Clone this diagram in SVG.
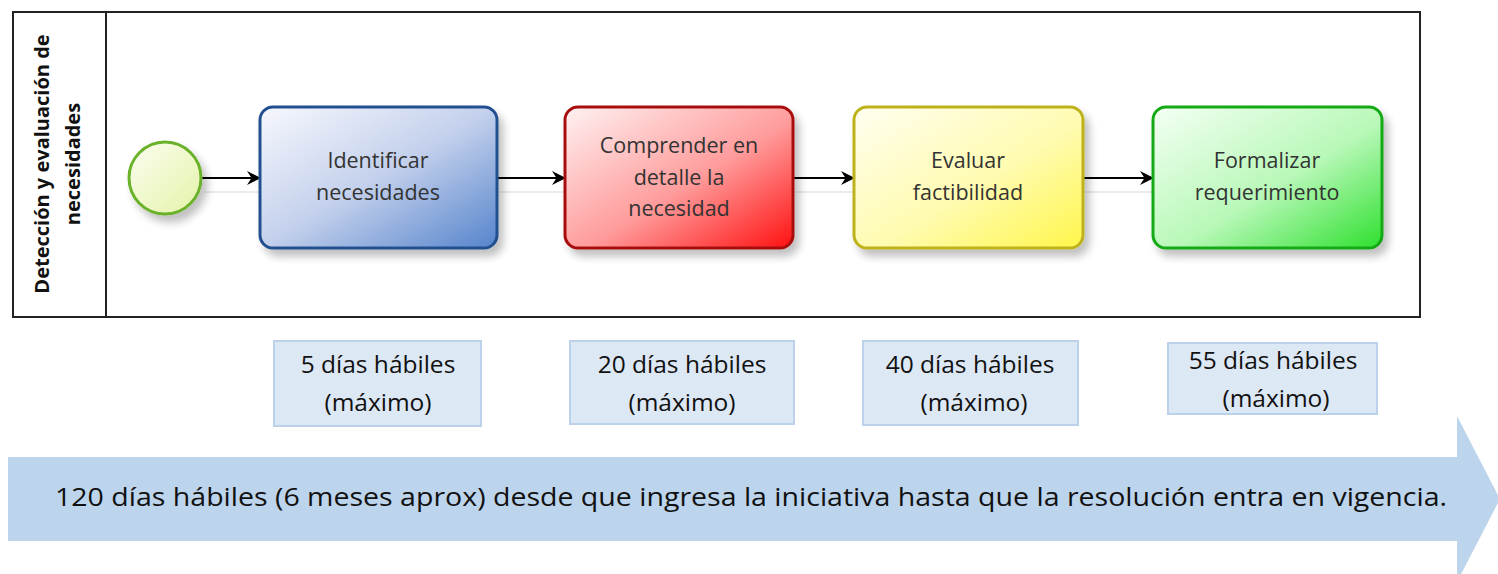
<svg xmlns="http://www.w3.org/2000/svg" width="1498" height="574" viewBox="0 0 1498 574">
<style>
.task{stroke-width:3}
.tt{font-family:"Open Sans","Noto Sans",sans-serif;font-size:21.5px;fill:#333;text-anchor:middle}
.dur{fill:#dde8f5;stroke:#bcd2ea;stroke-width:2}
.dt{font-family:"Open Sans","Noto Sans",sans-serif;font-size:24.5px;fill:#111;text-anchor:middle}
.conn{stroke:#000;stroke-width:2;fill:none;marker-end:url(#ah)}
.cshadow{stroke:#ececec;stroke-width:2;fill:none}
.lane{font-family:"Open Sans","Noto Sans",sans-serif;font-size:20px;font-weight:bold;fill:#111;text-anchor:middle}
</style>
<defs>
<marker id="ah" viewBox="0 0 14 14" refX="13" refY="7" markerWidth="14" markerHeight="14" markerUnits="userSpaceOnUse" orient="auto">
<path d="M0,0 L14,7 L0,14 L4.5,7 Z" fill="#000"/>
</marker>
<filter id="sh" x="-10%" y="-10%" width="130%" height="140%">
<feGaussianBlur in="SourceAlpha" stdDeviation="4"/>
<feOffset dx="5" dy="7"/>
<feComponentTransfer><feFuncA type="linear" slope="0.25"/></feComponentTransfer>
<feMerge><feMergeNode/><feMergeNode in="SourceGraphic"/></feMerge>
</filter>
<linearGradient id="gb" x1="0" y1="0" x2="1" y2="1"><stop offset="0" stop-color="#f7f8fd"/><stop offset="0.5" stop-color="#c3d0ec"/><stop offset="1" stop-color="#5584cc"/></linearGradient>
<linearGradient id="gr" x1="0" y1="0" x2="1" y2="1"><stop offset="0" stop-color="#fff2f2"/><stop offset="0.55" stop-color="#ff9a9a"/><stop offset="1" stop-color="#ff1010"/></linearGradient>
<linearGradient id="gy" x1="0" y1="0" x2="1" y2="1"><stop offset="0" stop-color="#fffef0"/><stop offset="0.55" stop-color="#fffbb0"/><stop offset="1" stop-color="#fff64a"/></linearGradient>
<linearGradient id="gg" x1="0" y1="0" x2="1" y2="1"><stop offset="0" stop-color="#f4fff4"/><stop offset="0.55" stop-color="#b8f8b8"/><stop offset="1" stop-color="#2ee02e"/></linearGradient>
<linearGradient id="gs" x1="0" y1="0" x2="1" y2="1"><stop offset="0" stop-color="#fbfdf0"/><stop offset="1" stop-color="#e4f3a8"/></linearGradient>
</defs>
<rect width="1498" height="574" fill="#fff"/>

<g id="pool">
<rect x="13" y="12" width="1407" height="305" fill="#fff" stroke="#222" stroke-width="2"/>
<line x1="106" y1="12" x2="106" y2="317" stroke="#222" stroke-width="2"/>
<text class="lane" transform="translate(49,164) rotate(-90)">Detección y evaluación de</text>
<text class="lane" transform="translate(80,164) rotate(-90)">necesidades</text>
</g>

<g id="connectors">
<line class="cshadow" x1="204" y1="192" x2="262" y2="192"/>
<line class="cshadow" x1="499" y1="192" x2="566" y2="192"/>
<line class="cshadow" x1="795" y1="192" x2="855" y2="192"/>
<line class="cshadow" x1="1085" y1="192" x2="1155" y2="192"/>
<line class="conn" x1="202" y1="178" x2="260" y2="178"/>
<line class="conn" x1="497" y1="178" x2="565" y2="178"/>
<line class="conn" x1="793" y1="178" x2="854" y2="178"/>
<line class="conn" x1="1083" y1="178" x2="1153" y2="178"/>
</g>

<g id="start">
<circle cx="165" cy="178" r="36" fill="url(#gs)" stroke="#6bb22c" stroke-width="3" filter="url(#sh)"/>
</g>

<g id="task1">
<rect class="task" x="260" y="107" width="237" height="141" rx="13" fill="url(#gb)" stroke="#22508f" filter="url(#sh)"/>
<text class="tt" x="378" y="168">Identificar</text>
<text class="tt" x="378" y="200">necesidades</text>
</g>
<g id="task2">
<rect class="task" x="565" y="107" width="228" height="141" rx="13" fill="url(#gr)" stroke="#a81010" filter="url(#sh)"/>
<text class="tt" x="679" y="153">Comprender en</text>
<text class="tt" x="679" y="185">detalle la</text>
<text class="tt" x="679" y="216">necesidad</text>
</g>
<g id="task3">
<rect class="task" x="854" y="107" width="229" height="141" rx="13" fill="url(#gy)" stroke="#bdb21a" filter="url(#sh)"/>
<text class="tt" x="968" y="168">Evaluar</text>
<text class="tt" x="968" y="200">factibilidad</text>
</g>
<g id="task4">
<rect class="task" x="1153" y="107" width="229" height="141" rx="13" fill="url(#gg)" stroke="#13a913" filter="url(#sh)"/>
<text class="tt" x="1267" y="168">Formalizar</text>
<text class="tt" x="1267" y="200">requerimiento</text>
</g>

<g id="dur1">
<rect class="dur" x="274" y="341" width="207" height="85"/>
<text class="dt" x="378" y="373">5 días hábiles</text>
<text class="dt" x="378" y="411">(máximo)</text>
</g>
<g id="dur2">
<rect class="dur" x="570" y="341" width="224" height="83"/>
<text class="dt" x="682" y="373">20 días hábiles</text>
<text class="dt" x="682" y="411">(máximo)</text>
</g>
<g id="dur3">
<rect class="dur" x="863" y="341" width="215" height="84"/>
<text class="dt" x="970" y="373">40 días hábiles</text>
<text class="dt" x="974" y="411">(máximo)</text>
</g>
<g id="dur4">
<rect class="dur" x="1168" y="343" width="209" height="71"/>
<text class="dt" x="1273" y="369">55 días hábiles</text>
<text class="dt" x="1276" y="407">(máximo)</text>
</g>

<g id="timeline">
<path d="M8,457 L1457,457 L1457,416 L1500,499 L1457,582 L1457,541 L8,541 Z" fill="#bdd5ec"/>
<text x="751" y="506" font-family="'Open Sans','Noto Sans',sans-serif" font-size="25" fill="#111" text-anchor="middle" textLength="1392" lengthAdjust="spacingAndGlyphs">120 días hábiles (6 meses aprox) desde que ingresa la iniciativa hasta que la resolución entra en vigencia.</text>
</g>
</svg>
